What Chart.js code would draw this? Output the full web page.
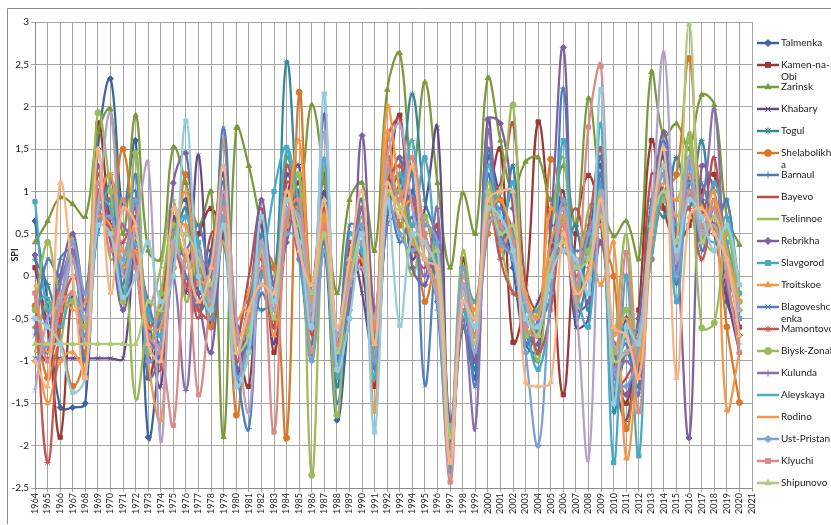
<!DOCTYPE html>
<html>
<head>
<meta charset="utf-8">
<script src="https://cdn.jsdelivr.net/npm/chart.js@4.4.0/dist/chart.umd.min.js"></script>
<style>
  html, body { margin: 0; padding: 0; background: #fff; }
  #wrap { width: 831px; height: 525px; }
</style>
</head>
<body>
<div id="wrap"><canvas id="spiChart" width="831" height="525"></canvas></div>
<script>
const years = ['1964','1965','1966','1967','1968','1969','1970','1971','1972','1973',
  '1974','1975','1976','1977','1978','1979','1980','1981','1982','1983',
  '1984','1985','1986','1987','1988','1989','1990','1991','1992','1993',
  '1994','1995','1996','1997','1998','1999','2000','2001','2002','2003',
  '2004','2005','2006','2007','2008','2009','2010','2011','2012','2013',
  '2014','2015','2016','2017','2018','2019','2020','2021'];

const yTicks = [3, 2.5, 2, 1.5, 1, 0.5, 0, -0.5, -1, -1.5, -2, -2.5];

// SPI per station, 1964-2020
const talmenka = [0.65,-0.3,-1.55,-1.55,-1.5,1.5,2.33,0.8,1.6,-1.9, -0.8,0.5,0.9,-0.2,0.3,1.2,-1.1,-0.7,0.4,-0.5, 1.2,0.5,-0.9,0.3,-1.7,-0.4,0.8,-0.5,1.3,0.6, 1.0,0.2,-0.3,-2.1,-0.6,-1.2,1.4,0.9,0.1,-0.8, -0.9,0.3,0.9,-0.3,0.4,1.3,-1.4,-0.5,-1.1,0.8, 1.4,0.0,1.1,0.9,0.5,-0.3,-0.7];
const kamenNaObi = [0.1,-0.6,-1.9,-0.2,-1.2,1.8,0.6,-0.3,0.9,-1.2, -0.4,0.6,0.2,0.5,0.8,0.4,-0.6,-1.3,0.7,-0.9, 0.5,1.1,-0.1,1.2,-0.8,0.3,0.1,-1.3,0.9,1.9, 0.3,0.7,-0.2,-2.2,0.2,-0.5,0.8,1.5,-0.78,-0.2, 1.82,0.4,-1.4,0.5,1.19,0.6,-0.8,-1.5,-0.4,1.6, 0.8,0.4,0.6,1.0,1.2,0.2,-0.6];
const zarinsk = [0.4,0.65,0.93,0.85,0.7,1.7,1.97,0.5,1.9,0.3, 0.2,1.52,1.1,0.6,1.0,-1.9,1.75,1.3,0.6,0.1, 1.4,1.0,2.02,1.1,-0.2,0.9,1.1,0.3,2.2,2.63, 1.2,2.29,1.1,0.1,0.98,0.5,2.34,1.6,1.0,1.35, 1.4,0.9,1.3,0.6,2.1,1.0,0.47,0.65,0.2,2.41, 1.65,1.8,1.5,2.14,2.02,0.7,0.37];
const khabary = [-0.97,-0.97,-0.97,-0.97,-0.97,-0.97,-0.97,-0.97,0.3,-0.6, -1.3,0.7,-0.2,1.43,-0.6,1.0,-1.2,-0.3,0.6,-0.8, 0.9,1.3,-0.6,1.0,-1.1,0.4,-0.2,-1.0,0.7,1.2, 0.2,0.8,1.75,-2.0,-0.4,-1.0,1.85,0.6,1.0,-0.5, -0.3,0.2,1.0,-0.6,-0.5,1.2,-1.0,-1.7,-0.6,0.3, 1.5,0.5,1.0,0.4,0.9,-0.2,-0.9];
const togul = [0.2,-0.1,-0.5,0.3,-0.8,0.8,1.2,-0.2,0.4,-0.5, -1.0,0.2,0.8,-0.4,-0.1,1.6,-0.8,-0.2,-0.4,-0.2, 2.53,0.5,-0.8,0.9,-1.3,0.2,0.6,-0.6,0.8,1.1, 2.15,0.9,0.4,-2.3,-0.1,-1.1,1.5,0.3,1.3,-0.6, -1.0,0.4,0.3,0.6,-0.4,0.9,-1.6,-0.9,-1.3,0.9, 0.7,1.4,0.8,1.6,0.5,0.9,-0.5];
const shelabolikha = [-0.35,-1.2,-0.8,-1.3,-0.9,1.0,0.9,1.5,0.2,-0.8, -0.4,0.1,1.2,0.3,-0.6,0.9,-1.64,-0.4,0.3,0.1, -1.91,2.17,-0.2,0.7,-0.9,-0.2,0.8,-0.5,1.4,0.6, 0.9,-0.3,0.2,-2.1,0.1,-0.7,0.5,0.9,0.3,-0.3, -0.7,1.38,0.8,-0.2,0.5,0.4,0.0,-1.8,-0.7,0.2, 1.0,1.2,2.57,0.8,0.6,-0.6,-1.49];
const barnaul = [-0.5,-0.9,0.2,0.3,-1.0,0.6,1.1,0.9,1.0,-1.2, -0.9,0.4,0.0,-0.3,0.2,1.1,-1.0,-1.8,0.5,-0.6, 1.0,0.3,-1.0,0.5,-1.5,-0.1,0.9,-1.1,1.0,0.4, 0.7,0.5,-0.4,-2.2,-0.3,-0.9,1.2,0.2,0.6,-0.9, -0.6,-0.2,2.22,-0.5,0.1,1.4,-1.2,-0.6,-1.2,0.6, 1.3,-0.1,1.4,0.3,0.8,0.2,-0.3];
const bayevo = [-0.8,-1.0,-0.5,0.4,-0.6,1.2,0.4,0.0,0.7,-0.9, -1.1,0.8,0.3,-0.5,0.5,0.5,-0.7,0.0,0.8,-0.4, 1.1,0.9,-0.7,0.6,-1.2,0.4,0.2,-0.9,1.6,1.85, 0.4,0.1,0.6,-2.1,-0.4,-0.6,0.9,1.1,1.8,-0.1, -0.4,0.0,0.4,0.8,0.3,0.7,-1.3,-1.2,-0.8,1.2, 1.0,0.6,0.9,0.7,1.4,-0.1,-0.2];
const tselinnoe = [-0.9,-0.3,-0.8,0.5,-0.2,1.3,0.2,0.3,-1.45,-0.5, 0.1,0.9,-0.3,0.3,-0.4,0.7,-1.3,-0.9,0.1,0.0, 0.6,1.2,-0.3,1.3,-0.7,-0.3,0.7,-0.6,1.2,0.8, 0.0,0.6,0.3,-1.9,0.3,-0.5,1.1,0.4,-0.2,-0.3, -1.0,0.5,1.4,-0.4,0.8,0.9,-0.7,0.5,-1.0,0.4, 1.2,0.2,1.7,0.5,0.3,0.6,-0.8];
const rebrikha = [0.25,-0.6,0.0,0.5,-0.3,1.3,0.5,-0.4,0.2,-0.3, -0.8,1.1,1.45,-0.2,-0.9,0.6,-1.1,-0.5,0.9,-0.1, 0.4,1.0,-0.5,1.9,-0.9,-0.5,1.66,-0.4,0.8,1.4, 0.1,-0.1,0.5,-1.7,-0.6,-1.0,1.85,1.8,0.8,-0.6, -0.8,0.6,2.7,-0.4,-0.3,0.4,-0.8,-1.4,-0.5,0.7, 1.7,0.4,-1.91,1.3,1.0,0.1,-0.4];
const slavgorod = [0.88,-0.4,-0.3,0.2,-0.7,0.7,1.0,0.1,0.5,-0.4, -0.7,0.2,0.7,0.4,-0.3,0.4,-1.2,-0.8,0.0,1.0, 1.52,0.2,-0.6,0.4,-1.0,0.5,0.3,-1.2,0.9,1.2, 0.6,1.4,-0.2,-2.3,0.0,-0.3,0.7,0.5,1.1,-0.5, -1.1,-0.3,1.6,-0.1,-0.6,1.1,-2.2,0.0,-2.12,0.8, 1.2,-0.3,1.0,0.5,1.1,0.4,-0.2];
const troitskoe = [-0.6,-1.5,-1.0,-0.9,-1.1,0.8,1.2,0.3,0.6,-1.0, -1.7,0.5,0.6,-0.1,0.1,1.6,-0.5,-0.2,0.4,-0.7, 0.7,0.8,-0.9,0.5,-1.1,0.2,0.6,-1.6,1.7,0.8, 0.9,0.4,0.0,-2.2,0.0,-0.4,0.9,0.3,0.6,-0.2, -0.5,0.8,0.5,0.2,0.3,-0.1,0.4,-2.15,-0.9,0.6, 1.0,0.9,1.3,0.7,1.0,-1.58,-0.9];
const blagoveshchenka = [-0.7,0.2,0.0,0.2,-0.5,0.5,0.9,-0.1,1.2,-0.8, -0.5,0.2,0.3,0.6,0.0,1.75,-0.6,-0.9,-0.2,-0.5, 0.7,0.6,-0.4,0.3,-1.0,0.6,0.5,-0.8,0.8,0.7, 1.2,-1.29,0.3,-1.9,-0.1,-1.3,0.7,0.8,0.5,-0.8, -0.5,0.2,0.5,0.3,0.4,1.2,-1.0,-0.8,-1.4,0.6, 1.6,0.3,1.1,1.1,0.6,0.9,-0.5];
const mamontovo = [-0.2,-2.2,-0.6,0.0,-0.2,1.0,0.5,0.4,0.8,-0.6, -0.3,0.3,-0.1,-0.4,-0.5,0.6,-1.0,-0.3,0.2,-0.6, 1.3,0.4,-0.4,0.8,-0.7,-0.2,0.2,-0.7,1.1,1.3, 0.9,0.5,-0.1,-2.0,-0.2,-0.8,1.0,0.2,-0.2,-0.3, -0.9,-0.4,0.7,0.0,0.6,1.5,-1.1,-0.9,-0.7,0.3, 0.9,0.5,0.8,0.2,0.7,0.0,-0.9];
const biyskZonal = [-0.4,0.4,-0.2,-0.3,-0.6,1.93,1.0,-0.3,1.45,-0.9, -0.2,0.6,0.2,0.0,-0.3,0.7,-0.8,-0.6,0.3,-0.2, 0.6,1.2,-2.35,0.7,-1.64,0.1,0.5,-0.9,0.9,1.0, 0.4,0.7,-0.1,-2.0,-0.5,-0.6,0.8,1.0,2.02,-0.7, -0.4,0.0,0.7,0.1,0.3,0.98,-0.9,-0.4,-0.9,0.4, 0.9,0.2,1.6,-0.61,-0.55,0.5,-0.3];
const kulunda = [-0.6,-0.8,-0.1,0.3,-0.4,0.7,0.7,0.6,0.3,-0.7, -0.9,0.0,-1.35,0.2,0.1,0.4,-0.6,-0.7,0.1,-0.1, 0.9,0.2,-0.2,0.4,-0.8,-0.3,0.8,-1.0,0.6,0.7, 0.5,0.0,0.8,-2.1,-0.5,-1.8,1.7,0.5,0.2,-0.5, -0.6,0.3,0.3,0.1,0.0,0.8,-1.2,-1.0,-1.2,0.7, 1.0,0.1,1.2,0.9,1.97,-0.1,-0.6];
const aleyskaya = [-0.3,-0.25,-0.6,-0.2,-0.5,0.9,0.8,-0.25,0.4,-0.5, -0.5,0.5,0.7,0.1,-0.5,0.9,-0.9,-0.4,0.4,-0.2, 1.5,0.8,-0.6,1.4,-1.2,0.1,0.3,-0.7,1.0,1.0, 1.6,0.2,0.2,-2.2,-0.4,-0.9,1.3,0.7,0.5,-0.4, -0.4,0.0,0.5,0.2,-0.2,1.8,-1.3,-0.7,-0.6,0.2, 1.0,0.6,1.1,0.6,0.4,0.7,-0.1];
const rodino = [-0.1,-0.9,-0.2,-0.4,-0.3,0.7,0.6,0.1,0.3,-0.6, -0.6,0.3,1.0,0.0,-0.1,0.4,-0.7,-0.5,0.1,-0.4, 0.6,1.6,-0.3,0.7,-0.9,0.1,0.2,-0.6,2.0,1.0, 0.4,0.2,-0.2,-2.1,-0.1,-0.6,0.7,0.9,0.4,-0.3, -0.5,0.4,0.7,-0.3,0.1,0.6,-0.7,-0.5,-1.0,0.7, 1.1,0.7,1.2,0.5,0.9,0.3,-0.3];
const ustPristan = [-1.0,-0.8,-0.3,0.4,-0.2,0.6,0.7,0.2,0.9,-1.0, -0.8,0.4,0.5,0.3,-0.2,0.7,-1.2,-0.8,-0.1,-0.3, 0.5,0.4,-1.0,0.3,-1.1,0.2,0.6,-1.0,0.9,0.5, 0.3,0.6,0.4,-1.9,0.1,-0.7,0.9,0.4,0.2,-0.9, -2.0,-0.2,0.9,-0.1,0.5,0.8,-1.1,-1.3,-0.8,0.5, 1.2,0.0,1.3,0.4,0.8,0.1,-0.5];
const klyuchi = [-0.2,-1.0,-0.4,-0.2,-0.8,1.1,0.3,0.9,0.1,-0.7, -0.9,-1.76,0.3,-1.4,-0.2,0.8,-0.8,-0.5,0.3,-1.84, 0.7,0.9,-0.5,0.6,-0.8,0.0,0.4,-0.6,1.3,0.9, 1.4,0.5,0.0,-2.43,-0.3,-0.7,1.0,0.6,0.4,-0.6, -0.7,0.1,0.6,-0.2,1.76,2.48,-1.5,0.28,-1.6,0.4, 1.3,0.3,1.0,0.6,0.8,0.0,-0.9];
const shipunovo = [-0.8,-0.8,-0.8,-0.8,-0.8,-0.8,-0.8,-0.8,-0.8,-0.3, -0.4,0.4,0.5,0.2,-0.1,0.6,-0.9,-0.7,0.3,-0.5, 0.9,0.6,-0.2,0.5,-0.9,-0.1,0.5,-0.8,1.0,0.8, 0.5,0.2,0.3,-1.9,-0.2,-0.8,1.0,0.5,0.6,-0.3, -0.7,0.2,0.4,0.1,0.2,0.7,-1.0,-0.9,-0.7,0.6, 1.0,0.4,2.97,0.4,0.7,0.2,-0.4];
// series drawn in the plot but cut off from the legend
const extra22 = [-1.35,-0.5,-0.3,0.2,-0.5,0.8,1.92,0.0,0.6,1.33, -1.95,0.4,0.1,0.3,-0.3,1.0,-0.5,-1.6,0.4,-0.4, 0.8,0.7,-0.4,1.7,-0.7,-0.1,0.1,-0.5,1.4,1.8, 0.8,0.2,-0.3,-2.1,-0.1,-0.9,0.6,0.7,0.3,-0.3, -0.6,0.0,0.8,-0.3,-2.17,1.0,-0.8,-0.9,-0.7,0.7, 2.64,0.2,1.4,0.5,0.6,0.1,-0.4];
const extra23 = [-0.5,-0.6,-0.8,-1.37,-1.2,0.6,0.5,-0.25,0.0,0.4, -0.3,0.0,1.83,0.0,-0.4,0.6,-1.3,-0.9,0.7,-0.3, 0.9,0.4,-0.6,2.15,-1.1,-0.5,0.5,-1.84,0.9,-0.58, 0.5,0.4,0.0,-2.2,-0.3,-0.6,0.8,0.7,0.3,-0.5, -0.6,0.0,0.3,0.2,-0.2,2.2,-1.5,-0.6,-0.8,0.6, 1.3,0.3,0.9,0.7,0.3,0.6,-0.1];
const extra24 = [-1.0,-1.3,1.1,0.0,-1.2,1.5,-0.2,0.8,0.6,-0.8, -1.0,0.8,0.3,-0.3,0.1,1.3,-0.9,-0.4,-0.1,-0.2, 1.0,0.3,-0.1,0.9,-0.6,0.2,1.0,-0.8,1.1,0.7, 1.3,0.2,0.1,-2.2,-0.3,-0.5,0.9,1.0,1.0,-1.25, -1.3,-1.25,0.5,-0.2,0.0,0.9,-0.6,-0.7,-1.2,0.5, 1.5,-1.2,0.7,0.8,0.5,0.2,-0.7];

const stations = [
  ['Talmenka', talmenka, '#3b64a0', 'rectRot'],
  ['Kamen-na-Obi', kamenNaObi, '#9b3734', 'rect'],
  ['Zarinsk', zarinsk, '#7a9a3a', 'triangle'],
  ['Khabary', khabary, '#63498a', 'crossRot'],
  ['Togul', togul, '#35879f', 'star'],
  ['Shelabolikha', shelabolikha, '#d8782a', 'circle'],
  ['Barnaul', barnaul, '#4a7ebb', 'cross'],
  ['Bayevo', bayevo, '#be4b48', 'dash'],
  ['Tselinnoe', tselinnoe, '#98b954', 'dash'],
  ['Rebrikha', rebrikha, '#7d60a0', 'rectRot'],
  ['Slavgorod', slavgorod, '#46aac5', 'rect'],
  ['Troitskoe', troitskoe, '#f79646', 'triangle'],
  ['Blagoveshchenka', blagoveshchenka, '#4f7fc0', 'crossRot'],
  ['Mamontovo', mamontovo, '#c75552', 'star'],
  ['Biysk-Zonal', biyskZonal, '#9bbb59', 'circle'],
  ['Kulunda', kulunda, '#8a6fae', 'cross'],
  ['Aleyskaya', aleyskaya, '#4bacc6', 'dash'],
  ['Rodino', rodino, '#f7963f', 'dash'],
  ['Ust-Pristan', ustPristan, '#7ba0d4', 'rectRot'],
  ['Klyuchi', klyuchi, '#d98a88', 'rect'],
  ['Shipunovo', shipunovo, '#afcb7a', 'triangle'],
  ['', extra22, '#b3a2c7', 'crossRot'],
  ['', extra23, '#93cddd', 'rect'],
  ['', extra24, '#fab482', 'triangle']
];
const legendCount = 21;

const datasets = stations.map(([name, values, color, marker], i) => ({
  label: name,
  data: values,
  borderColor: color,
  backgroundColor: color,
  pointBackgroundColor: color,
  pointBorderColor: color,
  pointStyle: marker,
  pointRadius: 3,
  pointBorderWidth: 1,
  borderWidth: 2.25,
  tension: 0.4,
  order: stations.length - i
}));

// legend lines hold at most 11 characters, breaking after a hyphen where one fits
function wrapLabel(text) {
  const maxChars = 11;
  if (text.length <= maxChars) return [text];
  let cut = maxChars;
  const dash = text.slice(0, maxChars).lastIndexOf('-');
  if (dash > 0) cut = dash + 1;
  return [text.slice(0, cut), text.slice(cut)];
}

const sideLegend = {
  id: 'sideLegend',
  afterDraw(chart) {
    const ctx = chart.ctx;
    const H = Chart.helpers;
    ctx.save();
    // chart area frame
    ctx.strokeStyle = '#8c8c8c';
    ctx.lineWidth = 1;
    ctx.beginPath();
    ctx.moveTo(7.5, 524);
    ctx.lineTo(7.5, 8.5);
    ctx.lineTo(831, 8.5);
    ctx.stroke();

    ctx.font = '10px Lato';
    ctx.textBaseline = 'middle';
    chart.data.datasets.forEach((ds, i) => {
      if (i >= legendCount) return;
      const y = 43 + i * 22;
      ctx.strokeStyle = ds.borderColor;
      ctx.fillStyle = ds.borderColor;
      ctx.lineWidth = 2.5;
      ctx.beginPath();
      ctx.moveTo(757, y);
      ctx.lineTo(779, y);
      ctx.stroke();
      if (ds.pointStyle !== 'dash' && H && H.drawPoint) {
        ctx.lineWidth = 1;
        H.drawPoint(ctx, { pointStyle: ds.pointStyle, radius: 3.5, borderWidth: 1, rotation: 0 }, 768, y);
      }
      ctx.fillStyle = '#222';
      wrapLabel(ds.label).forEach((t, k) => ctx.fillText(t, 781, y + k * 12));
    });
    ctx.restore();
  }
};

new Chart(document.getElementById('spiChart').getContext('2d'), {
  type: 'line',
  data: { labels: years, datasets: datasets },
  options: {
    responsive: false,
    animation: false,
    layout: { padding: { left: 10, right: 79, top: 22, bottom: 1 } },
    plugins: { legend: { display: false }, tooltip: { enabled: false } },
    scales: {
      x: {
        offset: false,
        grid: { color: '#a6a6a6', lineWidth: 1, tickLength: 4 },
        border: { color: '#8c8c8c' },
        ticks: {
          autoSkip: false, minRotation: 90, maxRotation: 90,
          color: '#222', font: { family: 'Lato', size: 9 }, padding: 1
        },
        afterFit: scale => { scale.height = 36; }
      },
      y: {
        min: -2.5, max: 3,
        afterBuildTicks: scale => { scale.ticks = yTicks.map(v => ({ value: v })); },
        grid: { color: '#a6a6a6', lineWidth: 1, tickLength: 4 },
        border: { color: '#8c8c8c' },
        ticks: {
          color: '#222', font: { family: 'Lato', size: 10 }, padding: 2,
          callback: v => String(v).replace('.', ',')
        },
        title: { display: true, text: 'SPI', color: '#222', font: { family: 'Lato', size: 9, weight: 'bold' }, padding: 0 },
        afterFit: scale => { scale.width = 25; }
      }
    }
  },
  plugins: [sideLegend]
});
</script>
</body>
</html>
